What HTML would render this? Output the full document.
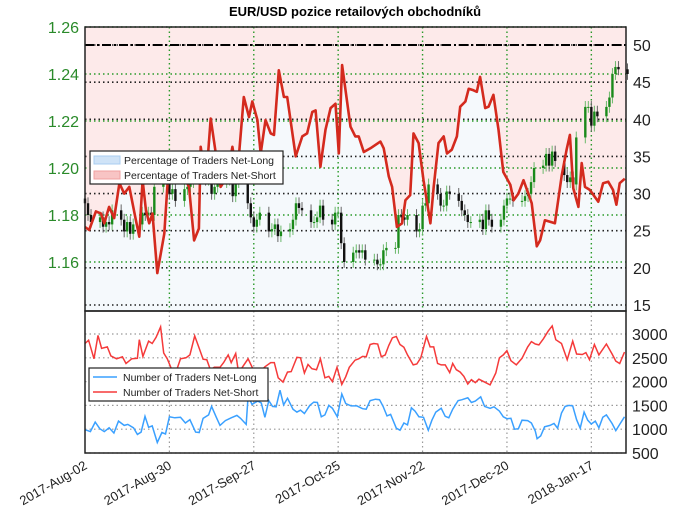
<!DOCTYPE html>
<html><head><meta charset="utf-8"><style>
body{margin:0;background:#fff;}
svg text{font-family:"Liberation Sans","DejaVu Sans",sans-serif;}
</style></head><body>
<svg id="c" width="680" height="518" viewBox="0 0 680 518" xmlns="http://www.w3.org/2000/svg">
<text x="355" y="16" text-anchor="middle" font-size="13" font-weight="bold">EUR/USD pozice retailových obchodníků</text>
<g id="top"></g><g id="bot"></g><g id="axes"></g>
</svg>
<script>
// ---- data ----
const dateTicks = ["2017-Aug-02","2017-Aug-30","2017-Sep-27","2017-Oct-25","2017-Nov-22","2017-Dec-20","2018-Jan-17"];
const dateTickDays = [0,28,56,84,112,140,168];
const priceTicks = [1.16,1.18,1.20,1.22,1.24,1.26];
const pctTicks = [15,20,25,30,35,40,45,50];
const countTicks = [500,1000,1500,2000,2500,3000];
const pctDays = [0,1.4,3.6,5.3,6.4,8.0,9.7,11.4,13.0,14.7,16.9,18.0,19.1,20.2,21.3,22.4,24.0,26.3,27.9,29.6,31.2,32.9,34.5,36.2,37.8,38.4,40.1,41.7,43.4,45.0,47.2,48.9,50.5,52.7,54.4,55.5,57.2,58.3,59.9,61.6,62.7,64.3,66.0,67.1,69.9,72.1,73.7,75.4,76.5,78.1,79.8,81.5,83.1,84.2,85.3,88.1,89.7,90.8,92.5,94.7,98.0,99.1,100.8,101.9,103.5,105.2,106.3,107.9,109.0,110.7,112.3,114.6,115.7,117.3,119.0,120.1,121.7,123.4,124.5,126.2,127.3,128.9,130.0,131.1,132.8,133.9,135.5,137.2,138.8,141.1,142.2,143.8,145.5,147.1,148.2,149.9,151.0,152.6,154.3,155.9,158.2,159.8,160.9,162.0,163.7,164.8,165.9,167.5,170.3,171.9,173.6,175.2,176.3,177.4,179.1];
const pctValues = [25.5,25.1,27.6,27.3,26.0,28.2,26.7,31.4,30.0,30.9,26.4,24.2,31.8,27.8,26.0,27.3,19.3,24.6,34.5,35.4,35.0,32.3,30.9,23.7,25.3,36.3,31.4,40.1,35.4,30.9,32.3,36.3,32.3,43.0,40.3,42.4,39.9,35.4,39.9,38.1,37.9,46.6,43.0,43.0,35.0,37.7,38.1,41.0,41.2,33.6,38.6,41.5,42.1,35.4,47.3,39.0,37.7,37.7,35.6,36.1,37.0,36.1,32.3,30.9,25.5,26.0,29.1,29.8,38.1,36.8,31.8,26.0,30.9,36.8,37.7,35.4,35.9,37.7,41.7,42.4,44.1,43.9,43.7,45.7,41.5,41.7,43.3,38.6,32.9,31.2,29.1,30.0,31.8,30.0,28.7,22.9,23.7,26.4,26.2,26.0,32.5,35.9,37.9,30.7,28.2,34.1,30.9,30.5,28.9,31.4,31.6,30.5,28.5,31.4,32.0];
const closes = [1.185,1.180,1.177, 1.179,1.175,1.177,1.176,1.182, 1.178,1.173,1.177,1.172,1.176, 1.181,1.180,1.181,1.180,1.192, 1.198,1.197,1.189,1.191,1.186, 1.191,1.192,1.194,1.203,1.203, 1.195,1.196,1.189,1.192,1.194, 1.195,1.199,1.188,1.194,1.195, 1.185,1.179,1.175,1.178,1.181, 1.173,1.174,1.176,1.171,1.173, 1.174,1.178,1.185,1.183,1.182, 1.177,1.177,1.179,1.184,1.178, 1.176,1.181,1.181,1.168,1.160, 1.164,1.165,1.164,1.165,1.161, 1.161,1.159,1.159,1.165,1.166, 1.166,1.180,1.179,1.178,1.180, 1.173,1.174,1.184,1.185,1.193, 1.189,1.184,1.184,1.190,1.189, 1.186,1.182,1.180,1.177,1.177, 1.178,1.174,1.182,1.178,1.175, 1.178,1.184,1.187,1.187,1.186, 1.186,1.188,1.189,1.194,1.200, 1.201,1.206,1.201,1.207,1.203, 1.197,1.194,1.196,1.193,1.213, 1.226,1.226,1.218,1.224,1.222, 1.226,1.230,1.240,1.243,1.242, 1.240];
const shortDays = [0,1.2,3.0,4.3,5.5,7.4,8.6,10.5,12.4,13.6,15.5,17.4,18.0,19.2,21.1,22.3,23.6,25.1,26.1,27.3,28.6,30.4,31.7,33.5,34.8,36.4,37.9,39.2,40.4,41.6,42.9,44.8,46.0,47.5,48.5,50.0,51.0,52.2,54.1,56.0,57.8,59.7,61.6,62.8,64.1,65.7,67.2,68.4,70.3,71.5,72.8,74.0,75.3,76.8,78.1,79.6,80.9,82.1,83.6,85.2,86.5,87.7,89.6,90.8,92.1,93.3,94.6,95.8,97.1,98.3,99.6,100.8,102.0,103.3,104.5,105.8,107.0,108.9,110.1,111.4,113.3,114.5,115.7,117.0,118.2,119.5,121.0,122.0,123.2,124.5,125.7,127.0,128.2,129.5,130.7,132.6,134.4,136.3,137.5,138.8,140.0,141.3,143.1,145.0,146.9,148.1,149.4,150.6,152.1,153.7,155.0,156.2,158.1,160.0,161.8,163.1,165.0,166.2,167.4,169.0,170.5,173.0,174.9,176.1,177.4,179.0];
const shortValues = [2800,2870,2480,2970,2700,2730,2540,2480,2520,2380,2480,2490,2880,2530,2850,2800,2930,3150,2600,2480,2280,2240,2480,2500,2560,2960,2700,2470,2460,2250,2300,2300,2400,2560,2400,2590,2170,2300,2480,2230,2190,2310,2400,2400,2080,1990,2200,2210,2510,2500,2180,2360,2270,2250,2480,2080,2110,2000,2300,1940,2100,2300,2450,2480,2530,2520,2780,2800,2790,2520,2560,2760,2920,2950,2780,2720,2560,2350,2370,2500,2950,2730,2730,2380,2350,2350,2190,2380,2250,2200,2110,1950,2040,1980,2050,1990,1930,2180,2500,2560,2650,2440,2350,2490,2730,2840,2790,2770,2900,3060,3170,2880,2800,2460,2850,2580,2570,2610,2460,2780,2560,2790,2580,2430,2380,2620];
const longDays = [0,1.8,3.4,4.9,6.4,8.0,9.6,11.1,13.0,14.2,16.1,17.4,18.6,19.9,21.1,22.3,24.0,25.5,26.7,28.0,29.8,31.7,33.3,34.8,36.7,37.9,39.2,41.0,42.0,43.5,44.8,46.6,48.5,50.4,51.6,53.5,54.1,55.4,57.3,58.5,59.7,61.0,62.2,63.4,64.7,65.9,67.2,69.0,70.3,71.5,72.8,74.6,75.9,77.1,78.4,79.6,80.9,82.1,83.7,85.2,86.5,88.3,90.2,92.1,93.3,94.6,96.4,97.7,98.9,100.2,101.4,103.3,104.5,105.8,107.0,108.3,109.5,110.8,112.3,113.9,115.1,116.4,118.2,119.5,120.7,122.0,123.8,125.1,127.0,128.2,129.5,131.3,132.6,134.4,135.7,137.5,138.8,140.0,141.3,142.5,143.8,145.0,146.9,148.1,149.4,150.0,151.2,152.5,154.3,155.6,156.8,158.1,159.3,160.6,161.8,163.1,164.3,165.6,166.8,168.0,169.3,170.5,171.8,173.0,174.9,176.1,177.4,179.0];
const longValues = [990,950,1150,1010,950,1030,920,1170,1080,1100,1030,890,940,1270,1040,1070,720,930,900,1260,1240,1250,1130,1200,940,930,1230,1300,1480,1260,1080,1180,1240,1290,1230,1100,1700,1520,1590,1550,1250,1600,1480,1470,1820,1510,1650,1420,1360,1400,1330,1500,1570,1560,1260,1300,1500,1440,1260,1740,1540,1490,1490,1430,1420,1600,1630,1620,1480,1280,1310,1020,980,1130,1090,1450,1380,1260,1250,980,1190,1360,1440,1270,1240,1420,1600,1620,1660,1560,1590,1680,1480,1440,1470,1380,1260,1220,1230,1000,1010,1190,1180,1130,960,800,860,1050,1080,1120,1020,1340,1480,1500,1490,1200,1020,1360,1190,1110,1170,1030,1250,1300,1120,970,1100,1260];

// ---- layout ----
const L=85,R=626,T=27,M=311,B=453;
const xs=d=>L+d*(R-L)/179.5;
const yPrice=p=>27+(1.26-p)*2350;
const yPct=v=>305-(v-15)*(260/35);
const yCnt=v=>B-(v-500)*0.0476;
const NS="http://www.w3.org/2000/svg";
function mk(parent,tag,attrs){const e=document.createElementNS(NS,tag);for(const k in attrs)e.setAttribute(k,attrs[k]);document.getElementById(parent).appendChild(e);return e;}
const pts=(ds,vs,fy)=>ds.map((d,i)=>xs(d).toFixed(1)+","+fy(vs[i]).toFixed(1)).join(" ");

let line=pts(pctDays,pctValues,yPct);
let e=mk("top","polygon",{points:xs(0)+","+T+" "+line+" "+R+","+T,fill:"#fdeaea"});

e=mk("top","polygon",{points:xs(0)+","+M+" "+line+" "+R+","+M,fill:"#f5f9fc"});

pctTicks.forEach(v=>{e=mk("top","line",{x1:L,x2:R,y1:yPct(v),y2:yPct(v),stroke:"#222","stroke-width":1.6,"stroke-dasharray":"1.5,3"});
});
priceTicks.forEach(v=>{e=mk("top","line",{x1:L,x2:R,y1:yPrice(v),y2:yPrice(v),stroke:"#2a9a2a","stroke-width":1.4,"stroke-dasharray":"1.5,3"});
});
dateTickDays.forEach((d,i)=>{if(i==0)return;
e=mk("top","line",{x1:xs(d),x2:xs(d),y1:T,y2:M,stroke:"#2a9a2a","stroke-width":1.4,"stroke-dasharray":"1.5,3"});

e=mk("bot","line",{x1:xs(d),x2:xs(d),y1:M,y2:B,stroke:"#999","stroke-width":1.2,"stroke-dasharray":"1.5,3"});
});
e=mk("top","line",{x1:L,x2:R,y1:yPct(50),y2:yPct(50),stroke:"#000","stroke-width":2,"stroke-dasharray":"9,3,2,3"});

let prev=closes[0]+0.002, day=0, wd=3;
closes.forEach((c,i)=>{
  const o=prev, x=xs(day), up=c>=o, col=up?"#1a8a1a":"#111";
  const hi=Math.max(o,c)+0.0025, lo=Math.min(o,c)-0.0025;
  e=mk("top","line",{x1:x,x2:x,y1:yPrice(hi),y2:yPrice(lo),stroke:up?"#6ab86a":"#666","stroke-width":1});
  
  const y1=yPrice(Math.max(o,c)),h=Math.max(1,yPrice(Math.min(o,c))-y1);
  e=mk("top","rect",{x:x-1.2,y:y1,width:2.4,height:h,fill:col});
  
  prev=c; day+=(wd==5?3:1); wd=(wd==5?1:wd+1);
});
e=mk("top","polyline",{points:line,fill:"none",stroke:"#d42a1e","stroke-width":2.6,"stroke-linejoin":"round"});

countTicks.forEach(v=>{e=mk("bot","line",{x1:L,x2:R,y1:yCnt(v),y2:yCnt(v),stroke:"#999","stroke-width":1.2,"stroke-dasharray":"1.5,3"});
});
e=mk("bot","polyline",{points:pts(shortDays,shortValues,yCnt),fill:"none",stroke:"#f53a3a","stroke-width":1.5});

e=mk("bot","polyline",{points:pts(longDays,longValues,yCnt),fill:"none",stroke:"#3aa0ff","stroke-width":1.5});

e=mk("axes","rect",{x:L,y:T,width:R-L,height:M-T,fill:"none",stroke:"#222","stroke-width":1.5});

e=mk("axes","rect",{x:L,y:M,width:R-L,height:B-M,fill:"none",stroke:"#222","stroke-width":1.5});

priceTicks.forEach(v=>{e=mk("axes","text",{x:79,y:yPrice(v)+6,"text-anchor":"end","font-size":16,fill:"#2a8a2a"});e.textContent=v.toFixed(2);
});
pctTicks.forEach(v=>{e=mk("axes","text",{x:633,y:yPct(v)+6,"font-size":16,fill:"#222"});e.textContent=v;
});
countTicks.forEach(v=>{e=mk("axes","text",{x:632,y:yCnt(v)+6,"font-size":16,fill:"#222"});e.textContent=v;
});
dateTicks.forEach((t,i)=>{const x=xs(dateTickDays[i]);
e=mk("axes","text",{x:x+3,y:468,"text-anchor":"end","font-size":13,fill:"#222",transform:"rotate(-30 "+(x+3)+" 468)"});e.textContent=t;
});
function legend(x,y,w,items,kind,name){
  e=mk("axes","rect",{x:x,y:y,width:w,height:33,fill:"#fff",stroke:"#222","stroke-width":1.2});
  
  items.forEach((it,i)=>{const yy=y+9+i*15;
    if(kind=="patch"){e=mk("axes","rect",{x:x+4,y:yy-4,width:26,height:8,fill:it[1],stroke:it[2]});}
    else{e=mk("axes","line",{x1:x+4,x2:x+28,y1:yy,y2:yy,stroke:it[1],"stroke-width":1.5});}
    
    e=mk("axes","text",{x:x+34,y:yy+4,"font-size":10.5,fill:"#222"});e.textContent=it[0];
    });
}
legend(90,151,193,[["Percentage of Traders Net-Long","#cfe3f7","#a8cdf0"],["Percentage of Traders Net-Short","#f8c4c4","#f0a0a0"]],"patch","percentage-legend");
legend(89,368,179,[["Number of Traders Net-Long","#3aa0ff"],["Number of Traders Net-Short","#f53a3a"]],"line","count-legend");
</script>
</body></html>
